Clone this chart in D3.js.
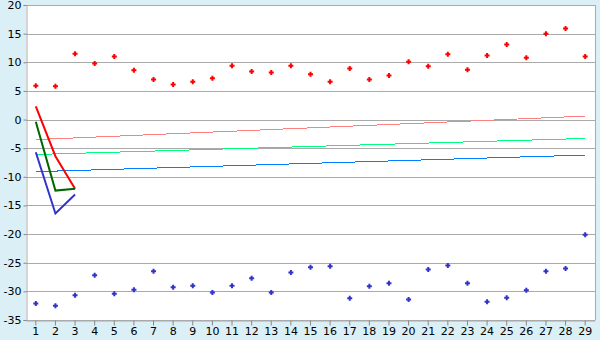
<!DOCTYPE html>
<html><head><meta charset="utf-8">
<script src="https://cdn.jsdelivr.net/npm/d3@7"></script>
<style>html,body{margin:0;padding:0;background:#DAEFF6;}svg{display:block;}</style>
</head><body>
<svg id="c" width="600" height="340"></svg>
<script>
const categories = d3.range(1, 30).map(String);
const yTicks = [20, 15, 10, 5, 0, -5, -10, -15, -20, -25, -30, -35];

const redPoints = [5.9, 5.8, 11.5, 9.8, 11.0, 8.6, 7.0, 6.1, 6.6, 7.2, 9.4, 8.4, 8.2, 9.4, 7.9, 6.6, 8.9, 7.0, 7.7, 10.1, 9.3, 11.4, 8.7, 11.2, 13.1, 10.8, 15.0, 15.9, 11.0];
const bluePoints = [-32.1, -32.5, -30.7, -27.2, -30.4, -29.7, -26.5, -29.3, -29.0, -30.2, -29.0, -27.7, -30.2, -26.7, -25.8, -25.6, -31.2, -29.1, -28.6, -31.4, -26.2, -25.5, -28.6, -31.8, -31.1, -29.8, -26.5, -26.0, -20.1];

const redLine = [2.3, -6.4, -12.1];
const greenLine = [-0.4, -12.4, -12.1];
const blueLine = [-5.7, -16.4, -13.1];

// trend lines: value at first and last category
const pinkTrend = [-3.5, 0.6];
const mintTrend = [-6.1, -3.3];
const azureTrend = [-9.1, -6.2];

(function () {
const svg = d3.select('#c');
const mLeft = 26, mRight = 595, mTop = 5, mBottom = 320;

svg.append('rect').attr('x', 0).attr('y', 0).attr('width', 600).attr('height', 340).attr('fill', '#DAEFF6');
svg.append('rect').attr('x', mLeft).attr('y', mTop).attr('width', mRight - mLeft).attr('height', mBottom - mTop).attr('fill', '#FFFFFF');

const x = d3.scaleBand().domain(categories).range([mLeft, mRight]);
const cx = c => x(c) + x.bandwidth() / 2;
const y = d3.scaleLinear().domain([-35, 20]).range([mBottom, mTop]);

// gridlines
svg.append('g').selectAll('line').data(yTicks).join('line')
  .attr('x1', mLeft).attr('x2', mRight)
  .attr('y1', d => Math.round(y(d)) + 0.5).attr('y2', d => Math.round(y(d)) + 0.5)
  .attr('stroke', '#AAAAAA').attr('stroke-width', 1);

// right border
svg.append('line').attr('x1', mRight + 0.5).attr('x2', mRight + 0.5).attr('y1', mTop).attr('y2', mBottom)
  .attr('stroke', '#AAAAAA');

// axes
const yAxis = d3.axisLeft(y).tickValues(yTicks).tickSize(3).tickPadding(2).tickFormat(d => String(d));
const gy = svg.append('g').attr('transform', `translate(${mLeft + 0.5},0)`).call(yAxis);
gy.select('.domain').attr('stroke', '#AAAAAA');
gy.selectAll('.tick line').attr('stroke', '#888888');
gy.selectAll('text').attr('font-family', 'DejaVu Sans').attr('font-size', 11).attr('fill', '#000');

const xAxis = d3.axisBottom(x).tickSize(5).tickPadding(2).tickSizeOuter(0);
const gx = svg.append('g').attr('transform', `translate(0,${mBottom + 0.5})`).call(xAxis);
gx.select('.domain').attr('stroke', '#AAAAAA');
gx.selectAll('.tick line').attr('stroke', '#888888');
gx.selectAll('text').attr('font-family', 'DejaVu Sans').attr('font-size', 11).attr('fill', '#000');

// trend lines
const first = categories[0], last = categories[categories.length - 1];
[[pinkTrend, '#FF8080'], [mintTrend, '#00FF80'], [azureTrend, '#0080FF']].forEach(([t, col]) => {
  svg.append('line')
    .attr('x1', cx(first)).attr('x2', cx(last))
    .attr('y1', y(t[0])).attr('y2', y(t[1]))
    .attr('stroke', col).attr('stroke-width', 1).attr('shape-rendering', 'crispEdges');
});

// short lines
const lineGen = d3.line().x((d, i) => cx(categories[i])).y(d => y(d));
[[redLine, '#FF0000'], [greenLine, '#006600'], [blueLine, '#3333CC']].forEach(([vals, col]) => {
  svg.append('path').datum(vals).attr('d', lineGen)
    .attr('fill', 'none').attr('stroke', col).attr('stroke-width', 2);
});

// markers
const marker = 'M-1,-2.5h2v1.5h1.5v2h-1.5v1.5h-2v-1.5h-1.5v-2h1.5z';
[[redPoints, '#FF0000'], [bluePoints, '#3333CC']].forEach(([vals, col]) => {
  svg.append('g').selectAll('path').data(vals).join('path')
    .attr('d', marker)
    .attr('transform', (d, i) => `translate(${cx(categories[i])},${y(d)})`)
    .attr('fill', col);
});
})();
</script>
</body></html>
